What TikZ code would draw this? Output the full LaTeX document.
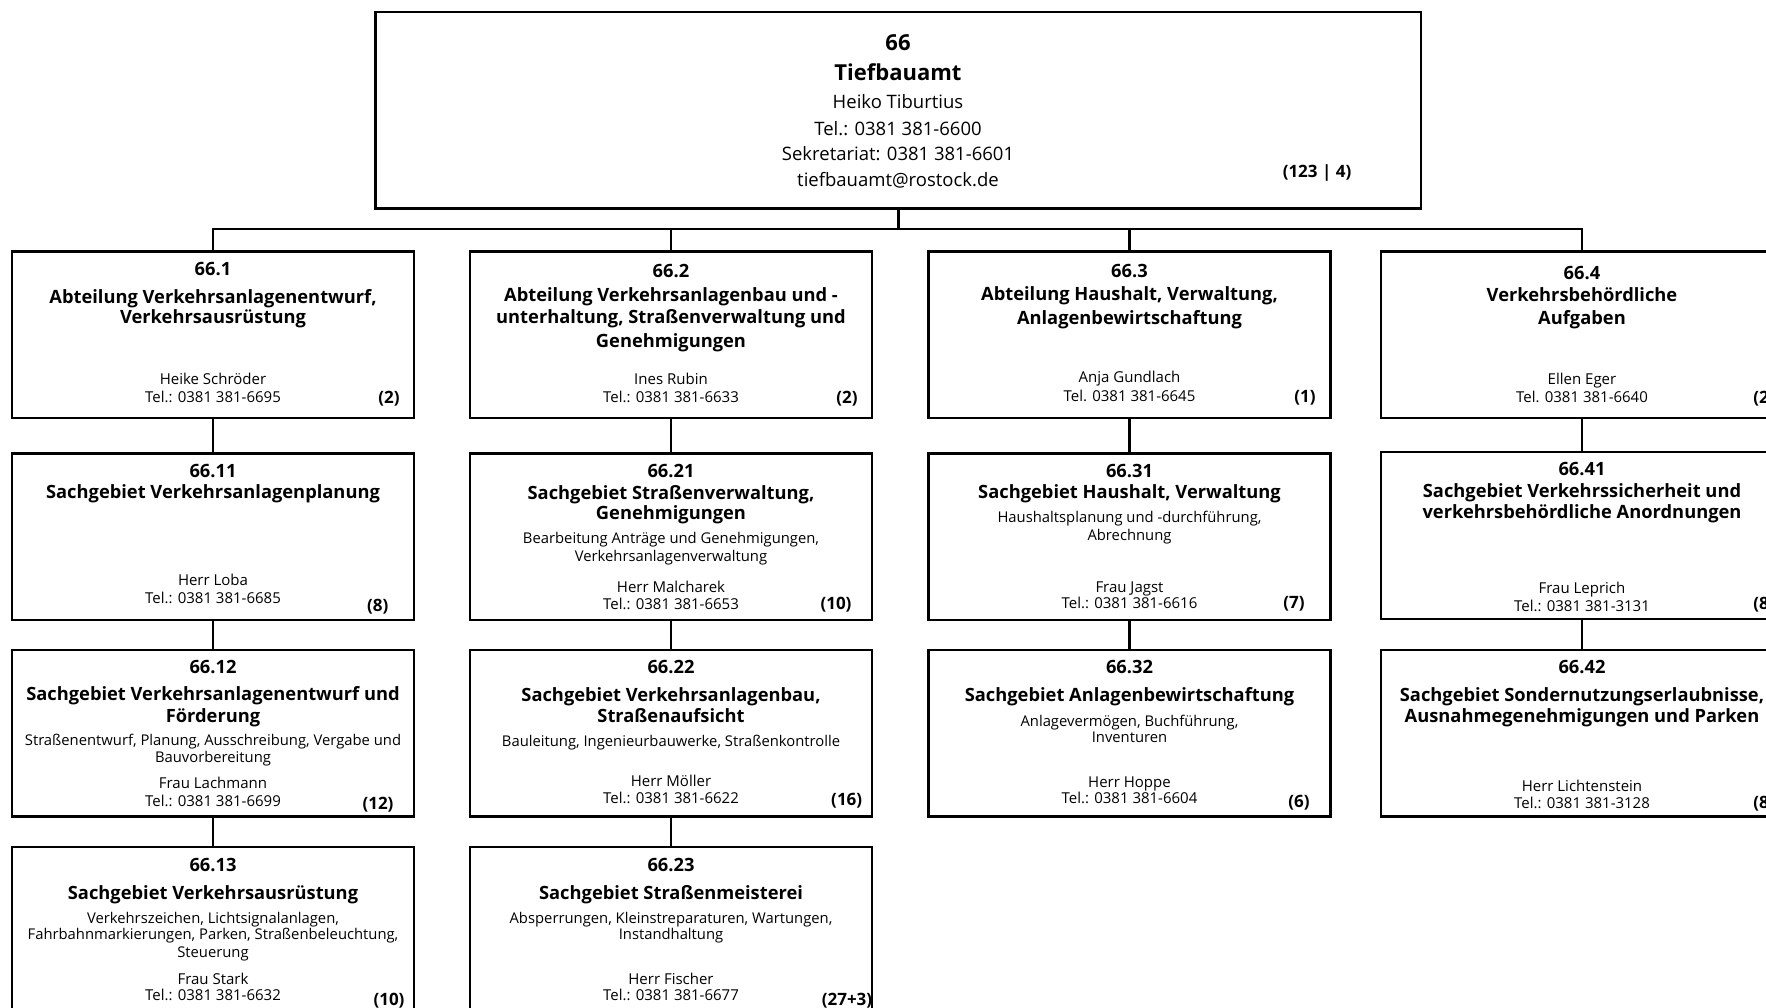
\documentclass[tikz,border=0pt]{standalone}
\usepackage{fontspec}
\setmainfont{Open Sans}
\usetikzlibrary{decorations.pathmorphing}
\newcommand\tx[4]{\node[#1] (#2) at (#3) {#4};}
\newlength\wavew
\newcommand\wavy[2]{%
  \settowidth\wavew{\fontsize{15}{18}\selectfont #2}%
  \draw[wave] ([xshift=-\wavew, yshift=-3.2pt]#1.base east) -- ([yshift=-3.2pt]#1.base east);}
\tikzset{
  box/.style={draw, line width=2.4pt, minimum width=402pt, minimum height=166.5pt, inner sep=0pt},
  conn/.style={line width=2.8pt},
  wave/.style={red, line width=0.7pt, decorate, decoration={snake, amplitude=0.8pt, segment length=2.6pt}},
  tb/.style={font=\fontsize{22}{26}\selectfont\bfseries, anchor=base, yshift=-7.9pt, inner sep=0pt},
  tr/.style={font=\fontsize{18.5}{22}\selectfont, anchor=base, yshift=-6.6pt, inner sep=0pt},
  num/.style={font=\fontsize{18.3}{21}\selectfont\bfseries, anchor=base, yshift=-6.5pt, inner sep=0pt},
  ttl/.style={font=\fontsize{18.3}{21}\selectfont\bfseries, anchor=base, yshift=-6.5pt, inner sep=0pt},
  dsc/.style={font=\fontsize{14.8}{17}\selectfont, anchor=base, yshift=-5.3pt, inner sep=0pt},
  nm/.style={font=\fontsize{15}{18}\selectfont, anchor=base, yshift=-5.4pt, inner sep=0pt},
  cnt/.style={font=\fontsize{17}{20}\selectfont\bfseries, anchor=base, yshift=-6.1pt, inner sep=0pt},
}
\begin{document}
\begin{tikzpicture}[x=1pt,y=-1pt]
\useasboundingbox (0,0) rectangle (1766,1008);
\clip (0,0) rectangle (1766,1008);

% boxes
\node[box, minimum width=1045.5pt, minimum height=196.5pt] (b66) at (898.25,110.25) {};
\node[box] (b661) at (213,334.75) {};
\node[box] (b662) at (671,334.75) {};
\node[box] (b663) at (1129.5,334.75) {};
\node[box] (b664) at (1582,334.75) {};
\node[box] (b6611) at (213,536.75) {};
\node[box] (b6621) at (671,536.75) {};
\node[box] (b6631) at (1129.5,536.75) {};
\node[box] (b6641) at (1582,535.5) {};
\node[box] (b6612) at (213,733.25) {};
\node[box] (b6622) at (671,733.25) {};
\node[box] (b6632) at (1129.5,733.25) {};
\node[box] (b6642) at (1582,733.25) {};
\node[box] (b6613) at (213,930.25) {};
\node[box] (b6623) at (671,930.25) {};

% connectors
\coordinate (busy) at (0,229);
\draw[conn] (b66.south) -- (b66.south |- busy);
\draw[conn] (b661.north) -- (b661.north |- busy) -- (b664.north |- busy) -- (b664.north);
\draw[conn] (b662.north) -- (b662.north |- busy);
\draw[conn] (b663.north) -- (b663.north |- busy);
\draw[conn] (b661.south) -- (b6611.north);
\draw[conn] (b6611.south) -- (b6612.north);
\draw[conn] (b6612.south) -- (b6613.north);
\draw[conn] (b662.south) -- (b6621.north);
\draw[conn] (b6621.south) -- (b6622.north);
\draw[conn] (b6622.south) -- (b6623.north);
\draw[conn] (b663.south) -- (b6631.north);
\draw[conn] (b6631.south) -- (b6632.north);
\draw[conn] (b664.south) -- (b6641.north);
\draw[conn] (b6641.south) -- (b6642.north);

% top box
\tx{tb}{a1}{898,42.5}{66}
\tx{tb}{a2}{898,73}{Tiefbauamt}
\tx{tr}{a3}{898,102}{Heiko Tiburtius}
\tx{tr}{a4}{898,129}{Tel.: 0381 381-6600}
\tx{tr}{a5}{898,154}{Sekretariat: 0381 381-6601}
\tx{tr}{a6}{898,180}{tiefbauamt@rostock.de}
\tx{cnt}{a7}{1317,171}{(123 | 4)}

% 66.1
\tx{num}{c1a}{213,269}{66.1}
\tx{ttl}{c1b}{213,296.5}{Abteilung Verkehrsanlagenentwurf,}
\tx{ttl}{c1c}{213,317}{Verkehrsausrüstung}
\tx{nm}{c1d}{213,379}{Heike Schröder}
\tx{nm}{c1e}{213,397.5}{Tel.: 0381 381-6695}
\tx{cnt}{c1f}{389,397}{(2)}
% 66.11
\tx{num}{c11a}{213,470.7}{66.11}
\tx{ttl}{c11b}{213,492}{Sachgebiet Verkehrsanlagenplanung}
\tx{nm}{c11c}{213,580}{Herr Loba}
\wavy{c11c}{Loba}
\tx{nm}{c11d}{213,597.7}{Tel.: 0381 381-6685}
\tx{cnt}{c11e}{377.7,605}{(8)}
% 66.12
\tx{num}{c12a}{213,666.7}{66.12}
\tx{ttl}{c12b}{213,694}{Sachgebiet Verkehrsanlagenentwurf und}
\tx{ttl}{c12c}{213,715.7}{Förderung}
\tx{dsc}{c12d}{213,740}{Straßenentwurf, Planung, Ausschreibung, Vergabe und}
\tx{dsc}{c12e}{213,757.3}{Bauvorbereitung}
\tx{nm}{c12f}{213,783.3}{Frau Lachmann}
\tx{nm}{c12g}{213,800.7}{Tel.: 0381 381-6699}
\tx{cnt}{c12h}{378,803.3}{(12)}
% 66.13
\tx{num}{c13a}{213,865}{66.13}
\tx{ttl}{c13b}{213,892.7}{Sachgebiet Verkehrsausrüstung}
\tx{dsc}{c13c}{213,917.7}{Verkehrszeichen, Lichtsignalanlagen,}
\tx{dsc}{c13d}{213,934}{Fahrbahnmarkierungen, Parken, Straßenbeleuchtung,}
\tx{dsc}{c13e}{213,951.7}{Steuerung}
\tx{nm}{c13f}{213,979}{Frau Stark}
\tx{nm}{c13g}{213,995}{Tel.: 0381 381-6632}
\tx{cnt}{c13h}{389,999}{(10)}

% 66.2
\tx{num}{c2a}{671,270.7}{66.2}
\tx{ttl}{c2b}{671,295}{Abteilung Verkehrsanlagenbau und -}
\tx{ttl}{c2c}{671,317}{unterhaltung, Straßenverwaltung und}
\tx{ttl}{c2d}{671,340.7}{Genehmigungen}
\tx{nm}{c2e}{671,379}{Ines Rubin}
\tx{nm}{c2f}{671,397}{Tel.: 0381 381-6633}
\tx{cnt}{c2g}{847,397}{(2)}
% 66.21
\tx{num}{c21a}{671,470.7}{66.21}
\tx{ttl}{c21b}{671,492.7}{Sachgebiet Straßenverwaltung,}
\tx{ttl}{c21c}{671,513}{Genehmigungen}
\tx{dsc}{c21d}{671,538}{Bearbeitung Anträge und Genehmigungen,}
\tx{dsc}{c21e}{671,555.7}{Verkehrsanlagenverwaltung}
\tx{nm}{c21f}{671,587}{Herr Malcharek}
\wavy{c21f}{Malcharek}
\tx{nm}{c21g}{671,604}{Tel.: 0381 381-6653}
\tx{cnt}{c21h}{836,603}{(10)}
% 66.22
\tx{num}{c22a}{671,667}{66.22}
\tx{ttl}{c22b}{671,695}{Sachgebiet Verkehrsanlagenbau,}
\tx{ttl}{c22c}{671,716}{Straßenaufsicht}
\tx{dsc}{c22d}{671,741}{Bauleitung, Ingenieurbauwerke, Straßenkontrolle}
\tx{nm}{c22e}{671,781}{Herr Möller}
\tx{nm}{c22f}{671,798}{Tel.: 0381 381-6622}
\tx{cnt}{c22g}{846.7,799}{(16)}
% 66.23
\tx{num}{c23a}{671,865}{66.23}
\tx{ttl}{c23b}{671,892.7}{Sachgebiet Straßenmeisterei}
\tx{dsc}{c23c}{671,917.7}{Absperrungen, Kleinstreparaturen, Wartungen,}
\tx{dsc}{c23d}{671,934}{Instandhaltung}
\tx{nm}{c23e}{671,979}{Herr Fischer}
\tx{nm}{c23f}{671,995}{Tel.: 0381 381-6677}
\tx{cnt}{c23g}{847,999}{(27+3)}

% 66.3
\tx{num}{c3a}{1129.5,270.7}{66.3}
\tx{ttl}{c3b}{1129.5,294}{Abteilung Haushalt, Verwaltung,}
\tx{ttl}{c3c}{1129.5,317.7}{Anlagenbewirtschaftung}
\tx{nm}{c3d}{1129.5,376.7}{Anja Gundlach}
\wavy{c3d}{Gundlach}
\tx{nm}{c3e}{1129.5,396}{Tel. 0381 381-6645}
\tx{cnt}{c3f}{1305,396}{(1)}
% 66.31
\tx{num}{c31a}{1129.5,471}{66.31}
\tx{ttl}{c31b}{1129.5,492}{Sachgebiet Haushalt, Verwaltung}
\tx{dsc}{c31c}{1129.5,517}{Haushaltsplanung und -durchführung,}
\tx{dsc}{c31d}{1129.5,535}{Abrechnung}
\tx{nm}{c31e}{1129.5,586.7}{Frau Jagst}
\tx{nm}{c31f}{1129.5,603}{Tel.: 0381 381-6616}
\tx{cnt}{c31g}{1294,602.7}{(7)}
% 66.32
\tx{num}{c32a}{1129.5,667}{66.32}
\tx{ttl}{c32b}{1129.5,695}{Sachgebiet Anlagenbewirtschaftung}
\tx{dsc}{c32c}{1129.5,720.7}{Anlagevermögen, Buchführung,}
\tx{dsc}{c32d}{1129.5,736.7}{Inventuren}
\tx{nm}{c32e}{1129.5,781.7}{Herr Hoppe}
\tx{nm}{c32f}{1129.5,798}{Tel.: 0381 381-6604}
\tx{cnt}{c32g}{1299,801}{(6)}

% 66.4
\tx{num}{c4a}{1582,272.7}{66.4}
\tx{ttl}{c4b}{1582,295}{Verkehrsbehördliche}
\tx{ttl}{c4c}{1582,318}{Aufgaben}
\tx{nm}{c4d}{1582,379}{Ellen Eger}
\tx{nm}{c4e}{1582,397}{Tel. 0381 381-6640}
\tx{cnt}{c4f}{1764,397}{(2)}
% 66.41
\tx{num}{c41a}{1582,469}{66.41}
\tx{ttl}{c41b}{1582,490.7}{Sachgebiet Verkehrssicherheit und}
\tx{ttl}{c41c}{1582,511.7}{verkehrsbehördliche Anordnungen}
\tx{nm}{c41d}{1582,588}{Frau Leprich}
\wavy{c41d}{Leprich}
\tx{nm}{c41e}{1582,605.7}{Tel.: 0381 381-3131}
\tx{cnt}{c41f}{1764,603}{(8)}
% 66.42
\tx{num}{c42a}{1582,667}{66.42}
\tx{ttl}{c42b}{1582,695}{Sachgebiet Sondernutzungserlaubnisse,}
\tx{ttl}{c42c}{1582,716}{Ausnahmegenehmigungen und Parken}
\tx{nm}{c42d}{1582,785.7}{Herr Lichtenstein}
\tx{nm}{c42e}{1582,802.7}{Tel.: 0381 381-3128}
\tx{cnt}{c42f}{1764,802.7}{(8)}
\end{tikzpicture}
\end{document}
